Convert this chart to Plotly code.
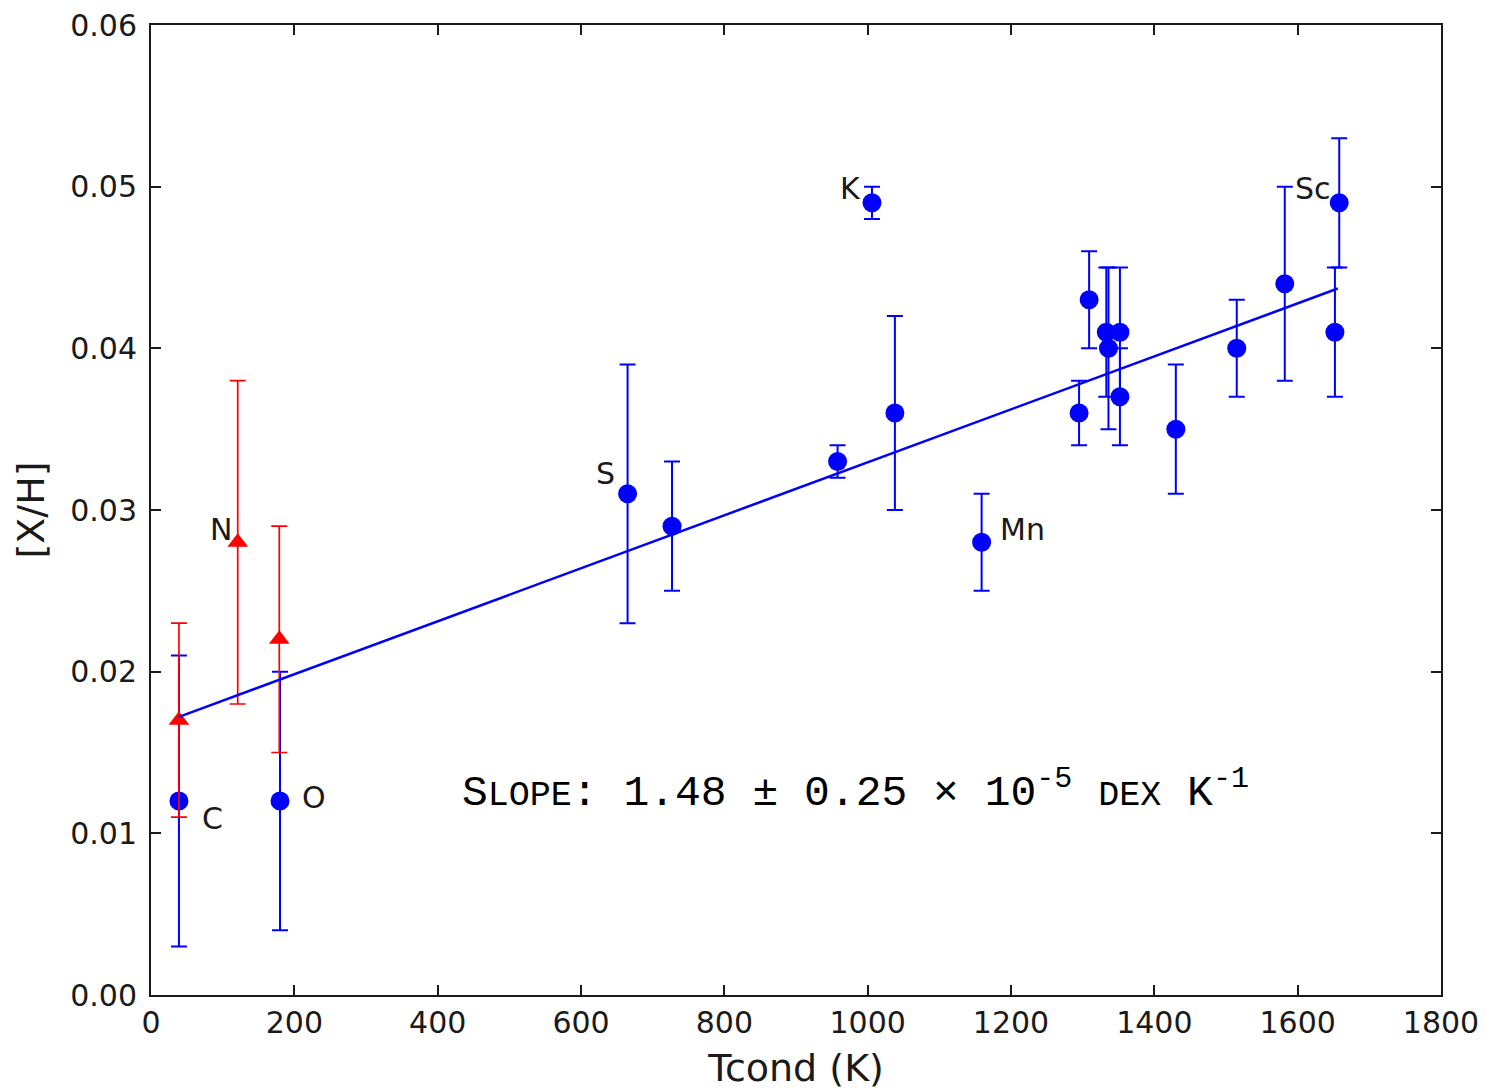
import plotly.graph_objects as go

# ---- data ----
blue_elements = ["C", "O", "S", "", "", "K", "", "Mn", "", "", "", "", "", "", "", "", "", "", "Sc"]
blue_tcond = [39, 180, 665, 727, 958, 1006, 1038, 1159, 1295, 1309, 1333, 1336, 1352, 1352, 1430, 1515, 1582, 1652, 1658]
blue_xh = [0.012, 0.012, 0.031, 0.029, 0.033, 0.049, 0.036, 0.028, 0.036, 0.043, 0.041, 0.040, 0.041, 0.037, 0.035, 0.040, 0.044, 0.041, 0.049]
blue_err = [0.009, 0.008, 0.008, 0.004, 0.001, 0.001, 0.006, 0.003, 0.002, 0.003, 0.004, 0.005, 0.004, 0.003, 0.004, 0.003, 0.006, 0.004, 0.004]

red_elements = ["", "N", ""]
red_tcond = [39, 121, 179]
red_xh = [0.017, 0.028, 0.022]
red_err = [0.006, 0.010, 0.007]

fit_tcond = [39, 1656]
fit_xh = [0.0172, 0.0437]

x_ticks = [0, 200, 400, 600, 800, 1000, 1200, 1400, 1600, 1800]
y_ticks = [0.00, 0.01, 0.02, 0.03, 0.04, 0.05, 0.06]

# label pixel offsets (style)
label_offsets = {"C": (34, -17), "O": (34, 4), "S": (-22, 20), "K": (-21, 14),
                 "Mn": (41, 13), "Sc": (-26, 14), "N": (-17, 13)}

BLUE = "#0000ff"
RED = "#ff0000"

fig = go.Figure()
fig.add_trace(go.Scatter(
    x=blue_tcond, y=blue_xh, mode="markers",
    marker=dict(color=BLUE, size=19, symbol="circle", line=dict(width=0)),
    error_y=dict(type="data", array=blue_err, visible=True, color=BLUE, thickness=2, width=8),
    showlegend=False))
fig.add_trace(go.Scatter(
    x=red_tcond, y=red_xh, mode="markers",
    marker=dict(color=RED, size=18, symbol="triangle-up", line=dict(width=0)),
    error_y=dict(type="data", array=red_err, visible=True, color=RED, thickness=1.7, width=8),
    showlegend=False))
fig.add_trace(go.Scatter(
    x=fit_tcond, y=fit_xh, mode="lines",
    line=dict(color=BLUE, width=2.5), showlegend=False))

label_font = dict(family="DejaVu Sans", size=30, color="#1a1a1a")
for names, xs, ys in [(blue_elements, blue_tcond, blue_xh), (red_elements, red_tcond, red_xh)]:
    for name, xv, yv in zip(names, xs, ys):
        if not name:
            continue
        dx, dy = label_offsets[name]
        fig.add_annotation(x=xv, y=yv, text=name, showarrow=False,
                           xshift=dx, yshift=dy, font=label_font,
                           xanchor="center", yanchor="middle")

sc = "font-size:35px"
slope_text = ("S<span style='%s'>LOPE</span>: 1.48 ± 0.25 × 10<sup>-5</sup> "
              "<span style='%s'>DEX</span> K<sup>-1</sup>") % (sc, sc)
fig.add_annotation(x=0.5, xref="paper", y=0.0127, yref="y", text=slope_text,
                   showarrow=False, xanchor="center", yanchor="middle",
                   xshift=59,
                   font=dict(family="Liberation Mono", size=43, color="black"))

axis_common = dict(showline=True, linecolor="#1a1a1a", linewidth=2, mirror="ticks",
                   ticks="inside", ticklen=10, tickwidth=1.5, tickcolor="#1a1a1a",
                   showgrid=False, zeroline=False, ticklabeloverflow="allow",
                   automargin=False,
                   tickfont=dict(family="DejaVu Sans", size=30, color="#1a1a1a"))

fig.update_xaxes(range=[0, 1800], tickvals=x_ticks, ticktext=[str(v) for v in x_ticks],
                 title=dict(text="Tcond (K)", font=dict(family="DejaVu Sans", size=38, color="#1a1a1a"),
                            standoff=15),
                 ticklabelstandoff=0, **axis_common)
fig.update_yaxes(range=[0, 0.06], tickvals=y_ticks, ticktext=["%.2f" % v for v in y_ticks],
                 title=dict(text="[X/H]", font=dict(family="DejaVu Sans", size=38, color="#1a1a1a"),
                            standoff=14),
                 ticklabelstandoff=6, **axis_common)

# page body has an 8px margin: figure is offset by 8px
fig.update_layout(width=1478, height=1083, autosize=False,
                  margin=dict(l=143, r=45, t=17, b=96),
                  plot_bgcolor="white", paper_bgcolor="white")

fig.write_html("out.html")
